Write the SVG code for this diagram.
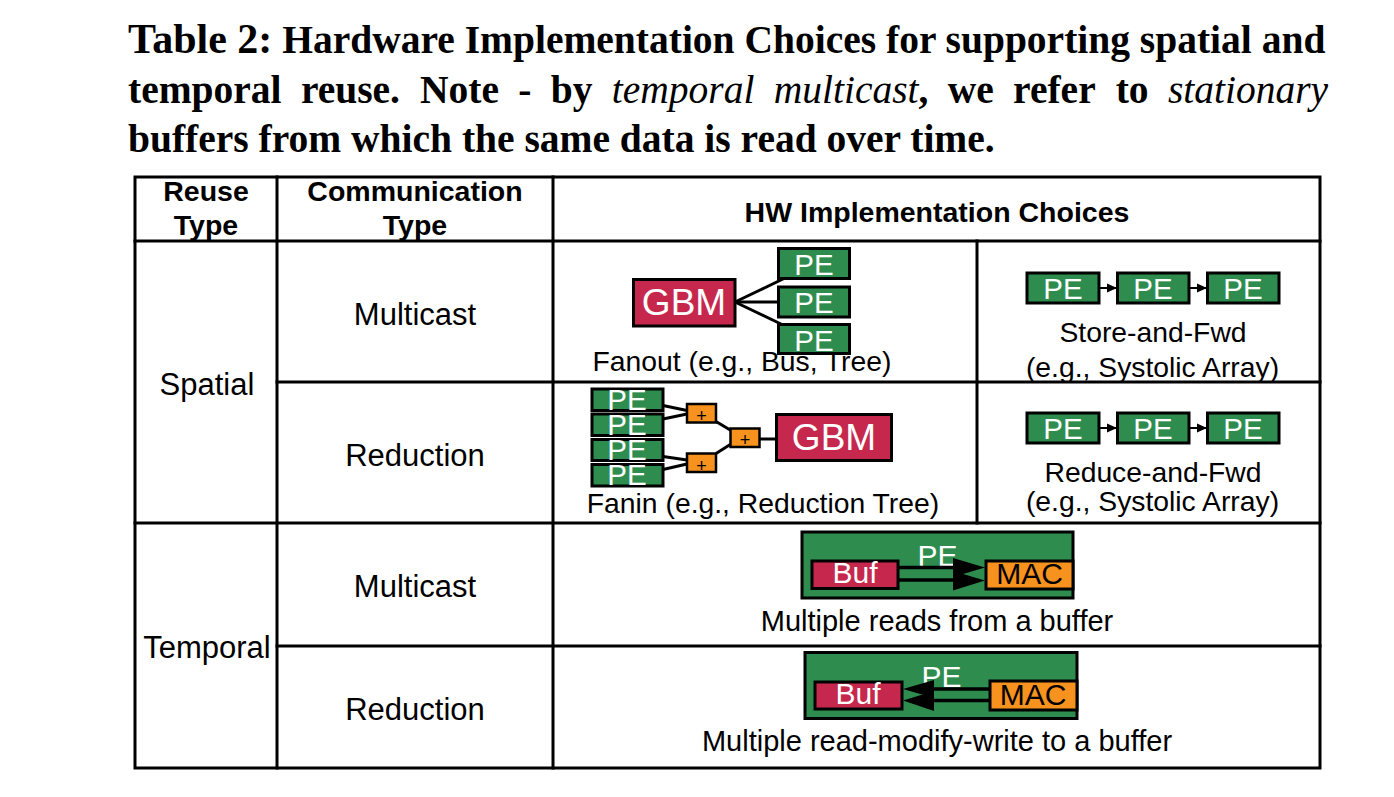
<svg xmlns="http://www.w3.org/2000/svg" width="1394" height="797" viewBox="0 0 1394 797">
<defs>
<style>
.s{font-family:'Liberation Sans',Arial,Helvetica,sans-serif}
.h{font-family:'Liberation Sans',Arial,Helvetica,sans-serif;font-weight:bold;font-size:28.5px;text-anchor:middle;fill:#000}
.b{font-family:'Liberation Sans',Arial,Helvetica,sans-serif;font-size:31px;text-anchor:middle;fill:#000}
.c{font-family:'Liberation Sans',Arial,Helvetica,sans-serif;font-size:28.3px;text-anchor:middle;fill:#000}
.c2{font-family:'Liberation Sans',Arial,Helvetica,sans-serif;font-size:29px;text-anchor:middle;fill:#000}
.grid{stroke:#000;stroke-width:3;fill:none;stroke-linecap:square}
.pe{fill:#2F8C4F;stroke:#000;stroke-width:3}
.gbm{fill:#C6284D;stroke:#000;stroke-width:3}
.add{fill:#F7921E;stroke:#000;stroke-width:2.5}
.mac{fill:#F7921E;stroke:#000;stroke-width:3}
.wt{font-family:'Liberation Sans',Arial,Helvetica,sans-serif;fill:#fff;text-anchor:middle}
.bt{font-family:'Liberation Sans',Arial,Helvetica,sans-serif;fill:#000;text-anchor:middle}
.wire{stroke:#000;stroke-width:3;fill:none}
.ser{font-family:'Liberation Serif','Times New Roman',Times,serif;font-weight:bold;font-size:39.5px;fill:#000}
.it{font-style:italic;font-weight:normal}
</style>
<marker id="ah" viewBox="0 0 10 10" refX="10" refY="5" markerWidth="10" markerHeight="10" markerUnits="userSpaceOnUse" orient="auto">
<path d="M0,0.5 L10,5 L0,9.5 z" fill="#000"/>
</marker>
</defs>
<rect width="1394" height="797" fill="#fff"/>

<g id="caption">
<text class="ser" x="128" y="53"><tspan font-size="42">Table 2:</tspan> Hardware Implementation Choices for supporting spatial and</text>
<text class="ser" y="103"><tspan x="128">temporal</tspan><tspan x="300.9">reuse.</tspan><tspan x="420">Note</tspan><tspan x="518.3">-</tspan><tspan x="550.8">by</tspan><tspan class="it" x="611.8">temporal</tspan><tspan class="it" x="773.7">multicast</tspan><tspan x="918.5">,</tspan><tspan x="947.7">we</tspan><tspan x="1013.1">refer</tspan><tspan x="1115.7">to</tspan><tspan class="it" x="1167.9">stationary</tspan></text>
<text class="ser" x="128" y="152">buffers from which the same data is read over time.</text>
</g>

<g id="table-grid" class="grid">
<rect x="135" y="177" width="1185" height="591"/>
<line x1="135" y1="241" x2="1320" y2="241"/>
<line x1="277" y1="177" x2="277" y2="768"/>
<line x1="553" y1="177" x2="553" y2="768"/>
<line x1="977" y1="241" x2="977" y2="523"/>
<line x1="277" y1="382" x2="1320" y2="382"/>
<line x1="135" y1="523" x2="1320" y2="523"/>
<line x1="277" y1="646" x2="1320" y2="646"/>
</g>

<g id="headers">
<text class="h" x="206" y="201">Reuse</text>
<text class="h" x="206" y="235">Type</text>
<text class="h" x="415" y="201">Communication</text>
<text class="h" x="415" y="235">Type</text>
<text class="h" x="937" y="222">HW Implementation Choices</text>
</g>

<g id="row-labels">
<text class="b" x="207" y="395">Spatial</text>
<text class="b" x="207" y="658">Temporal</text>
<text class="b" x="415" y="325">Multicast</text>
<text class="b" x="415" y="466">Reduction</text>
<text class="b" x="415" y="597">Multicast</text>
<text class="b" x="415" y="720">Reduction</text>
</g>

<g id="connectors">
<line class="wire" x1="735" y1="302" x2="785" y2="278"/>
<line class="wire" x1="735" y1="302" x2="778" y2="302"/>
<line class="wire" x1="735" y1="302" x2="783" y2="325"/>
<line class="wire" x1="663" y1="405.5" x2="687" y2="410.5"/>
<line class="wire" x1="663" y1="419" x2="687" y2="414"/>
<line class="wire" x1="663" y1="456.5" x2="687" y2="460"/>
<line class="wire" x1="663" y1="469.5" x2="687" y2="464"/>
<line class="wire" x1="716" y1="421.5" x2="731" y2="430.5"/>
<line class="wire" x1="716" y1="453.5" x2="731" y2="444"/>
<line class="wire" x1="759" y1="439" x2="776" y2="439"/>
<line stroke="#000" stroke-width="2" x1="1099" y1="288" x2="1117" y2="288" marker-end="url(#ah)"/>
<line stroke="#000" stroke-width="2" x1="1189" y1="288" x2="1207" y2="288" marker-end="url(#ah)"/>
<line stroke="#000" stroke-width="2" x1="1099" y1="428" x2="1117" y2="428" marker-end="url(#ah)"/>
<line stroke="#000" stroke-width="2" x1="1189" y1="428" x2="1207" y2="428" marker-end="url(#ah)"/>
</g>

<g id="fanout">
<rect class="gbm" x="633.5" y="279.5" width="101.5" height="46.5"/>
<text class="wt" x="684" y="315" font-size="37">GBM</text>
<rect class="pe" x="778.5" y="248.5" width="71" height="30"/>
<text class="wt" x="814" y="275" font-size="29.5">PE</text>
<rect class="pe" x="778.5" y="287" width="71" height="30"/>
<text class="wt" x="814" y="313" font-size="29.5">PE</text>
<rect class="pe" x="778.5" y="324.5" width="71" height="29"/>
<text class="wt" x="814" y="351" font-size="29.5">PE</text>
<text class="c" x="742" y="371">Fanout (e.g., Bus, Tree)</text>
</g>

<g id="fanin">
<rect class="pe" x="592" y="389" width="71" height="21.5"/>
<text class="wt" x="627" y="410" font-size="29.5">PE</text>
<rect class="pe" x="592" y="414" width="71" height="21.5"/>
<text class="wt" x="627" y="435" font-size="29.5">PE</text>
<rect class="pe" x="592" y="439.5" width="71" height="21"/>
<text class="wt" x="627" y="460" font-size="29.5">PE</text>
<rect class="pe" x="592" y="464.5" width="71" height="21.5"/>
<text class="wt" x="627" y="485" font-size="29.5">PE</text>
<rect class="add" x="687" y="404" width="29" height="18.5"/>
<text class="bt" x="701.5" y="422" font-size="18">+</text>
<rect class="add" x="687" y="453.5" width="29" height="18.5"/>
<text class="bt" x="701.5" y="471.5" font-size="18">+</text>
<rect class="add" x="730.5" y="428.5" width="29" height="18.5"/>
<text class="bt" x="745" y="446" font-size="18">+</text>
<rect class="gbm" x="776.5" y="414.5" width="115" height="46"/>
<text class="wt" x="834" y="450" font-size="37">GBM</text>
<text class="c" x="763" y="513">Fanin (e.g., Reduction Tree)</text>
</g>

<g id="store-and-fwd">
<rect class="pe" x="1027" y="273" width="72" height="30"/>
<text class="wt" x="1063" y="299" font-size="29.5">PE</text>
<rect class="pe" x="1117.5" y="273" width="71.5" height="30"/>
<text class="wt" x="1153" y="299" font-size="29.5">PE</text>
<rect class="pe" x="1207.5" y="273" width="71.5" height="30"/>
<text class="wt" x="1243" y="299" font-size="29.5">PE</text>
<text class="c" x="1153" y="342">Store-and-Fwd</text>
<text class="c" x="1152.5" y="376.5">(e.g., Systolic Array)</text>
</g>

<g id="reduce-and-fwd">
<rect class="pe" x="1027" y="413" width="72" height="30"/>
<text class="wt" x="1063" y="439" font-size="29.5">PE</text>
<rect class="pe" x="1117.5" y="413" width="71.5" height="30"/>
<text class="wt" x="1153" y="439" font-size="29.5">PE</text>
<rect class="pe" x="1207.5" y="413" width="71.5" height="30"/>
<text class="wt" x="1243" y="439" font-size="29.5">PE</text>
<text class="c" x="1153" y="482">Reduce-and-Fwd</text>
<text class="c" x="1152.5" y="511">(e.g., Systolic Array)</text>
</g>

<g id="temporal-multicast">
<rect class="pe" x="802" y="532" width="271" height="66" stroke-width="2.5"/>
<text class="wt" x="937.5" y="566" font-size="30">PE</text>
<line stroke="#000" stroke-width="3.5" x1="898" y1="567.5" x2="956" y2="567.5"/>
<line stroke="#000" stroke-width="3.5" x1="898" y1="580" x2="956" y2="580"/>
<polygon points="953,558 985,567.5 953,577" fill="#000"/>
<polygon points="953,571 985,580.5 953,590.5" fill="#000"/>
<rect class="gbm" x="812" y="561" width="86" height="27.5"/>
<text class="wt" x="855" y="583" font-size="30">Buf</text>
<rect class="mac" x="986" y="561" width="87" height="28"/>
<text class="bt" x="1029.5" y="584" font-size="30">MAC</text>
<text class="c2" x="937" y="631">Multiple reads from a buffer</text>
</g>

<g id="temporal-reduction">
<rect class="pe" x="805" y="652.5" width="272" height="66" stroke-width="2.5"/>
<text class="wt" x="941.5" y="687" font-size="30">PE</text>
<line stroke="#000" stroke-width="3.5" x1="930" y1="689" x2="990" y2="689"/>
<line stroke="#000" stroke-width="3.5" x1="930" y1="700.5" x2="990" y2="700.5"/>
<polygon points="934,680 903,689 934,698" fill="#000"/>
<polygon points="934,691 903,700.5 934,711" fill="#000"/>
<rect class="gbm" x="815" y="682" width="87" height="27"/>
<text class="wt" x="858" y="704" font-size="30">Buf</text>
<rect class="mac" x="990" y="681" width="87" height="29"/>
<text class="bt" x="1033" y="705" font-size="30">MAC</text>
<text class="c2" x="937" y="751">Multiple read-modify-write to a buffer</text>
</g>
</svg>
